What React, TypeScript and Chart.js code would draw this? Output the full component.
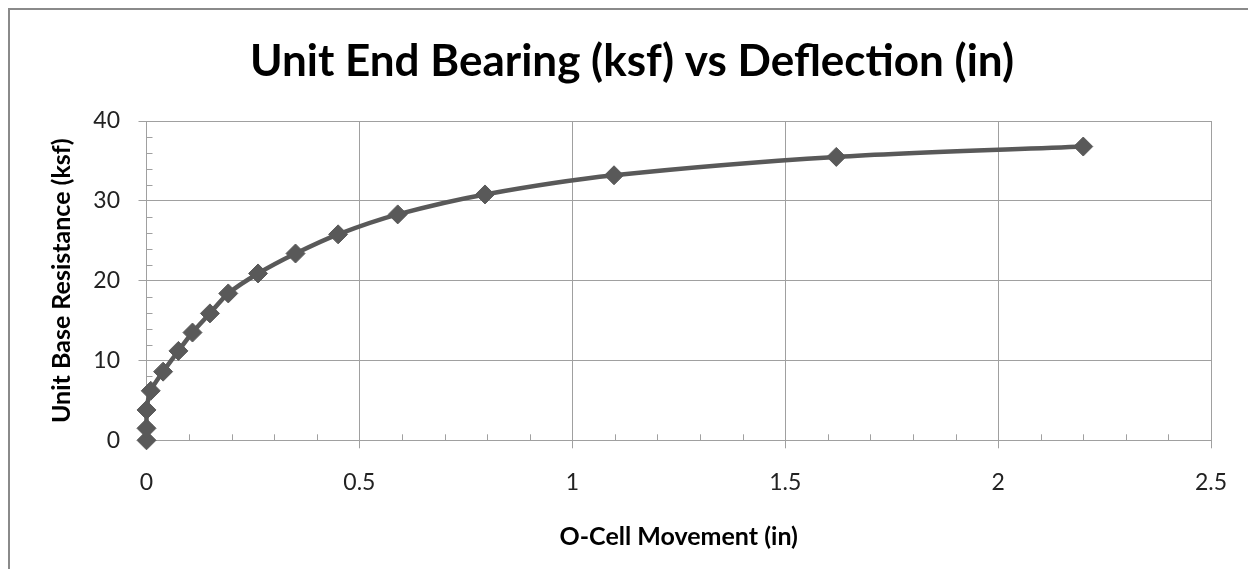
import { useEffect, useRef } from 'react';
import { Chart, registerables } from 'chart.js';

Chart.register(...registerables);

const movementIn = [0, 0, 0, 0.01, 0.039, 0.075, 0.108, 0.149, 0.192, 0.262, 0.35, 0.45, 0.59, 0.795, 1.098, 1.62, 2.2];
const resistanceKsf = [0, 1.5, 3.8, 6.2, 8.6, 11.2, 13.5, 15.9, 18.4, 20.9, 23.4, 25.8, 28.3, 30.8, 33.2, 35.5, 36.8];
const xTicks = [0, 0.5, 1, 1.5, 2, 2.5];
const yTicks = [0, 10, 20, 30, 40];
const xMinorStep = 0.1;
const yMinorStep = 2;

const chartTitle = 'Unit End Bearing (ksf) vs Deflection (in)';
const xTitle = 'O-Cell Movement (in)';
const yTitle = 'Unit Base Resistance (ksf)';

const FONT = 'Lato';
const GRID = '#a0a0a0';
const SERIES = '#595959';

const minorTicks = {
  id: 'minorTicks',
  beforeDatasetsDraw(chart: any) {
    const { ctx, scales } = chart;
    const xs = scales.x;
    const ys = scales.y;
    ctx.save();
    ctx.strokeStyle = GRID;
    ctx.lineWidth = 1;
    ctx.beginPath();
    const nx = Math.round((xs.max - xs.min) / xMinorStep);
    for (let i = 1; i < nx; i++) {
      const v = xs.min + i * xMinorStep;
      if (Math.abs(v / 0.5 - Math.round(v / 0.5)) < 1e-6) continue;
      const px = Math.round(xs.getPixelForValue(v)) + 0.5;
      ctx.moveTo(px, ys.bottom);
      ctx.lineTo(px, ys.bottom - 6);
    }
    const ny = Math.round((ys.max - ys.min) / yMinorStep);
    for (let i = 1; i < ny; i++) {
      const v = ys.min + i * yMinorStep;
      if (Math.abs(v / 10 - Math.round(v / 10)) < 1e-6) continue;
      const py = Math.round(ys.getPixelForValue(v)) + 0.5;
      ctx.moveTo(xs.left, py);
      ctx.lineTo(xs.left + 6, py);
    }
    ctx.stroke();
    ctx.restore();
  },
};

export default function App() {
  const ref = useRef<HTMLCanvasElement | null>(null);

  useEffect(() => {
    if (!ref.current) return;
    const chart = new Chart(ref.current, {
      type: 'line',
      data: {
        datasets: [
          {
            label: 'Unit Base Resistance',
            data: movementIn.map((x, i) => ({ x, y: resistanceKsf[i] })),
            borderColor: SERIES,
            backgroundColor: SERIES,
            borderWidth: 4.5,
            tension: 0.3,
            pointStyle: 'rectRot',
            pointRadius: 9.5,
            pointBorderWidth: 1,
            pointBackgroundColor: SERIES,
            pointBorderColor: SERIES,
            fill: false,
            clip: false,
          },
        ],
      },
      options: {
        animation: false,
        responsive: false,
        layout: { padding: { left: 43, right: 37, top: 0, bottom: 0 } },
        plugins: {
          legend: { display: false },
          tooltip: { enabled: false },
          title: {
            display: true,
            text: chartTitle,
            color: '#000',
            font: { family: FONT, size: 44, weight: 'bold' },
            padding: { top: 25.6, bottom: 32.6 },
          },
        },
        scales: {
          x: {
            type: 'linear',
            min: 0,
            max: 2.5,
            afterBuildTicks: (s: any) => {
              s.ticks = xTicks.map((v) => ({ value: v }));
            },
            afterFit: (s: any) => {
              s.height = 128.7;
            },
            grid: { color: GRID, lineWidth: 1, tickLength: 8, drawTicks: true },
            border: { display: true, color: GRID, width: 1 },
            ticks: {
              color: '#222',
              font: { family: FONT, size: 23 },
              padding: 20.5,
              maxRotation: 0,
              callback: (v: any) => String(v),
            },
            title: {
              display: true,
              text: xTitle,
              color: '#000',
              font: { family: FONT, size: 25, weight: 'bold' },
              padding: { top: 0, bottom: 17 },
            },
          },
          y: {
            type: 'linear',
            min: 0,
            max: 40,
            afterBuildTicks: (s: any) => {
              s.ticks = yTicks.map((v) => ({ value: v }));
            },
            afterFit: (s: any) => {
              s.width = 93.5;
            },
            grid: { color: GRID, lineWidth: 1, tickLength: 8, drawTicks: true },
            border: { display: true, color: GRID, width: 1 },
            ticks: {
              color: '#222',
              font: { family: FONT, size: 23 },
              padding: 18.5,
              callback: (v: any) => String(v),
            },
            title: {
              display: true,
              text: yTitle,
              color: '#000',
              font: { family: FONT, size: 25, weight: 'bold' },
              padding: { top: -6, bottom: 0 },
            },
          },
        },
      },
      plugins: [minorTicks],
    });
    return () => chart.destroy();
  }, []);

  return (
    <div
      style={{
        borderLeft: '2px solid #8a8a8a',
        borderTop: '2px solid #8a8a8a',
        width: 1238,
        height: 559,
        background: '#fff',
      }}
    >
      <canvas ref={ref} width={1238} height={559} style={{ display: 'block', width: 1238, height: 559 }} />
    </div>
  );
}
